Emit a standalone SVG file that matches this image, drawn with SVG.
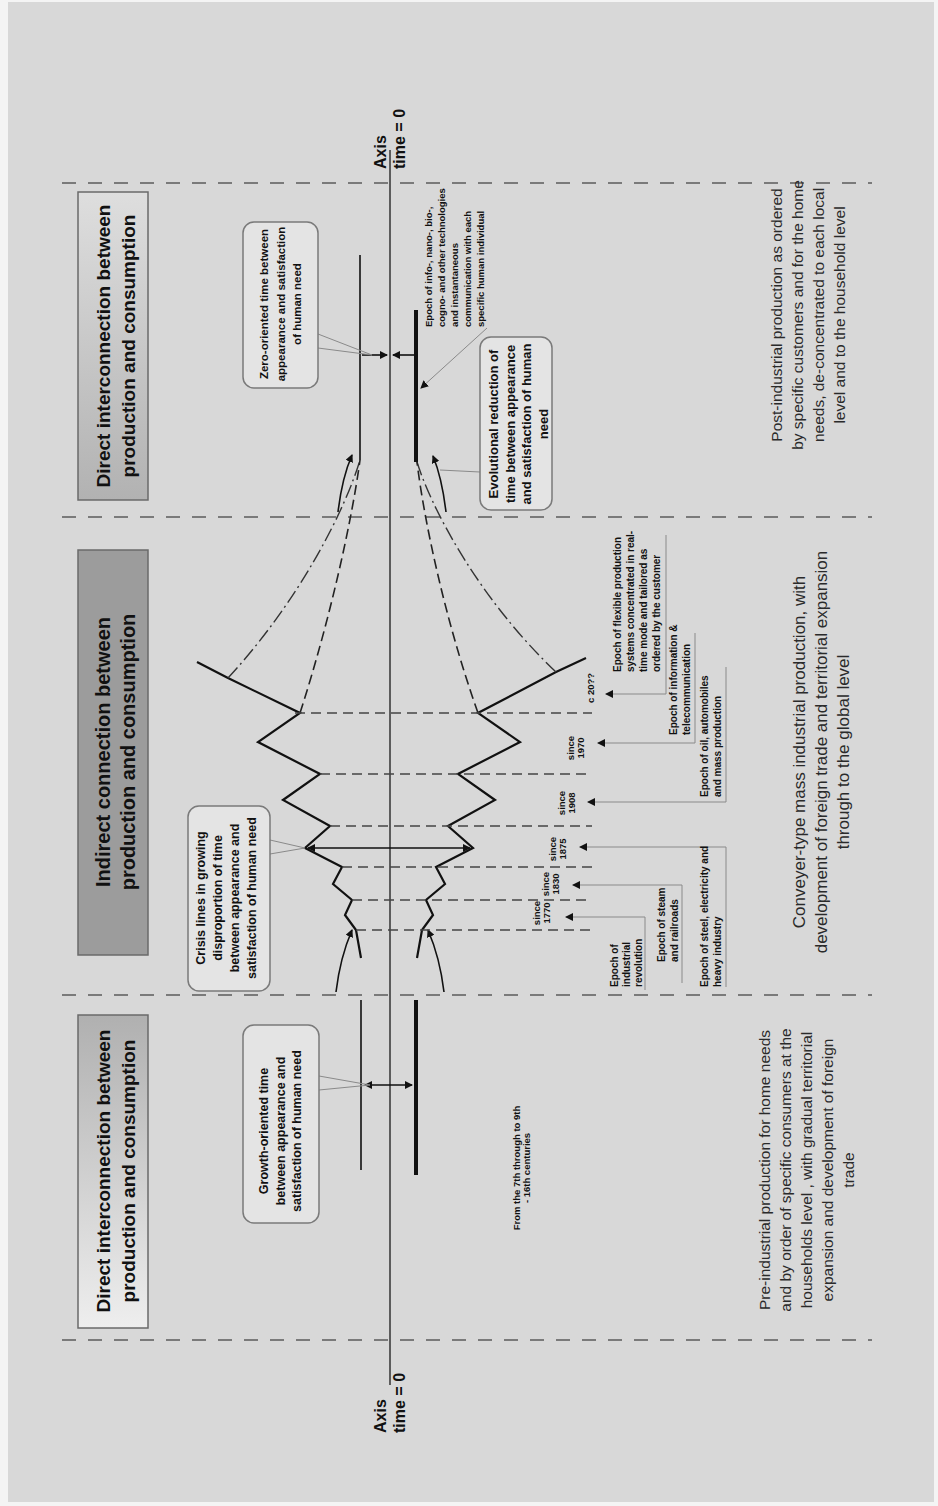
<svg xmlns="http://www.w3.org/2000/svg" width="938" height="1506" viewBox="0 0 938 1506">
<defs>
  <linearGradient id="gTop" x1="0" y1="0" x2="0" y2="1">
    <stop offset="0" stop-color="#dedede"/><stop offset="1" stop-color="#b2b2b2"/>
  </linearGradient>
  <linearGradient id="gBot" x1="0" y1="0" x2="0" y2="1">
    <stop offset="0" stop-color="#b0b0b0"/><stop offset="1" stop-color="#eeeeee"/>
  </linearGradient>
  <marker id="ah" markerWidth="8" markerHeight="8" refX="7" refY="4" orient="auto" markerUnits="userSpaceOnUse">
    <path d="M0,0 L8,4 L0,8 z" fill="#111"/>
  </marker>
  <marker id="ahs" markerWidth="8" markerHeight="8" refX="1" refY="4" orient="auto" markerUnits="userSpaceOnUse">
    <path d="M8,0 L0,4 L8,8 z" fill="#111"/>
  </marker>
</defs>
<style>
  .sep{stroke:#7a7a7a;stroke-width:2;stroke-dasharray:14 12;fill:none}
  .hdr{font-family:"Liberation Sans",Arial,sans-serif;font-weight:bold;font-size:19px;fill:#111;text-anchor:middle}
  .desc{font-family:"Liberation Sans",Arial,sans-serif;font-size:15.5px;fill:#2a2a2a;text-anchor:middle}
  .call{font-family:"Liberation Sans",Arial,sans-serif;font-weight:bold;font-size:12.5px;fill:#111;text-anchor:middle}
  .lbl{font-family:"Liberation Sans",Arial,sans-serif;font-weight:bold;font-size:10px;fill:#111;text-anchor:start}
  .since{font-family:"Liberation Sans",Arial,sans-serif;font-weight:bold;font-size:9.5px;fill:#111;text-anchor:middle}
  .axl{font-family:"Liberation Sans",Arial,sans-serif;font-weight:bold;font-size:16px;fill:#111;text-anchor:start}
  .cbox{fill:#e4e4e4;stroke:#7a7a7a;stroke-width:1.5}
  .hbox{stroke:#6a6a6a;stroke-width:1.5}
  .zig{fill:none;stroke:#111;stroke-width:2.2;stroke-linejoin:miter}
  .ep{stroke:#444;stroke-width:1.5;stroke-dasharray:10 6;fill:none}
  .lead{stroke:#8a8a8a;stroke-width:1;fill:none}
  .thin{stroke:#111;stroke-width:1.6;fill:none}
  .thick{stroke:#111;stroke-width:4;fill:none}
  .dc1{stroke:#222;stroke-width:1.6;fill:none;stroke-dasharray:10 5}
  .dc2{stroke:#333;stroke-width:1.4;fill:none;stroke-dasharray:14 4 2 4}
</style>
<rect x="0" y="0" width="938" height="1506" fill="#f4f4f4"/>
<rect x="8" y="2" width="926" height="1500" fill="#d8d8d8"/>

<g id="separators">
  <line class="sep" x1="62" y1="183" x2="872" y2="183"/>
  <line class="sep" x1="62" y1="517" x2="872" y2="517"/>
  <line class="sep" x1="62" y1="995" x2="872" y2="995"/>
  <line class="sep" x1="62" y1="1340" x2="872" y2="1340"/>
</g>

<g id="header-post">
  <rect class="hbox" x="78" y="192" width="70" height="308" fill="url(#gTop)"/>
  <g transform="translate(110,346) rotate(-90)">
    <text class="hdr" x="0" y="0">Direct interconnection between</text>
    <text class="hdr" x="0" y="25">production and consumption</text>
  </g>
</g>
<g id="header-indirect">
  <rect class="hbox" x="78" y="550" width="70" height="405" fill="#9c9c9c"/>
  <g transform="translate(110,752) rotate(-90)">
    <text class="hdr" x="0" y="0" style="font-size:20px">Indirect connection between</text>
    <text class="hdr" x="0" y="25" style="font-size:20px">production and consumption</text>
  </g>
</g>
<g id="header-pre">
  <rect class="hbox" x="78" y="1015" width="70" height="313" fill="url(#gBot)"/>
  <g transform="translate(110,1171) rotate(-90)">
    <text class="hdr" x="0" y="0">Direct interconnection between</text>
    <text class="hdr" x="0" y="25">production and consumption</text>
  </g>
</g>

<g id="desc-post" transform="translate(782,315) rotate(-90)">
  <text class="desc" x="0" y="0">Post-industrial production as ordered</text>
  <text class="desc" x="0" y="21">by specific customers and for the home</text>
  <text class="desc" x="0" y="42">needs, de-concentrated to each local</text>
  <text class="desc" x="0" y="63">level and to the household level</text>
</g>
<g id="desc-indirect" transform="translate(805,752) rotate(-90)">
  <text class="desc" x="0" y="0" style="font-size:17px">Conveyer-type mass industrial production, with</text>
  <text class="desc" x="0" y="22" style="font-size:17px">development of foreign trade and territorial expansion</text>
  <text class="desc" x="0" y="44" style="font-size:17px">through to the global level</text>
</g>
<g id="desc-pre" transform="translate(770,1170) rotate(-90)">
  <text class="desc" x="0" y="0">Pre-industrial production for home needs</text>
  <text class="desc" x="0" y="21">and by order of specific consumers at the</text>
  <text class="desc" x="0" y="42">households level , with gradual territorial</text>
  <text class="desc" x="0" y="63">expansion and development of foreign</text>
  <text class="desc" x="0" y="84">trade</text>
</g>

<g id="axis-top" transform="translate(386,169) rotate(-90)">
  <text class="axl" x="0" y="0">Axis</text>
  <text class="axl" x="0" y="19">time = 0</text>
</g>
<g id="axis-bottom" transform="translate(386,1433) rotate(-90)">
  <text class="axl" x="0" y="0">Axis</text>
  <text class="axl" x="0" y="19">time = 0</text>
</g>

<g id="connectors">
  <line x1="390" y1="150" x2="390" y2="1385" stroke="#333" stroke-width="1.5"/>
  <!-- pre-industrial parallel lines -->
  <line class="thin" x1="361" y1="1000" x2="361" y2="1170"/>
  <line class="thick" x1="416" y1="1000" x2="416" y2="1175"/>
  <line class="thin" x1="365" y1="1085" x2="412" y2="1085" marker-start="url(#ahs)" marker-end="url(#ah)"/>
  <!-- post-industrial parallel lines -->
  <line class="thin" x1="360" y1="255" x2="360" y2="460"/>
  <line class="thick" x1="416" y1="310" x2="416" y2="462"/>
  <line class="thin" x1="362" y1="355" x2="387" y2="355" marker-end="url(#ah)"/>
  <line class="thin" x1="414" y1="355" x2="393" y2="355" marker-end="url(#ah)"/>
  <!-- zigzags -->
  <polyline class="zig" points="361,958 356,930 345,915 352,900 333,884 342,867 305,848 330,826 283,800 320,774 258,742 300,713 228,678 197,662"/>
  <polyline class="zig" points="417,958 422,930 433,915 426,900 445,884 436,867 473,848 448,826 495,800 458,774 520,742 478,713 556,672 586,658"/>
  <!-- converging dashed curves -->
  <path class="dc2" d="M228,678 C300,600 345,510 360,460"/>
  <path class="dc1" d="M300,713 C330,620 352,520 360,460"/>
  <path class="dc2" d="M556,672 C480,600 432,510 417,462"/>
  <path class="dc1" d="M478,713 C445,620 424,520 417,462"/>
  <!-- crisis arrow -->
  <line class="thin" x1="308" y1="848" x2="470" y2="848" marker-start="url(#ahs)" marker-end="url(#ah)"/>
  <!-- curved direction arrows -->
  <path class="thin" d="M338,512 Q342,478 352,455" marker-end="url(#ah)"/>
  <path class="thin" d="M446,512 Q442,478 433,456" marker-end="url(#ah)"/>
  <path class="thin" d="M336,992 Q340,958 352,930" marker-end="url(#ah)"/>
  <path class="thin" d="M444,992 Q440,958 428,930" marker-end="url(#ah)"/>
  <!-- epoch boundary dashed lines -->
  <line class="ep" x1="356" y1="930" x2="592" y2="930"/>
  <line class="ep" x1="352" y1="900" x2="592" y2="900"/>
  <line class="ep" x1="342" y1="867" x2="592" y2="867"/>
  <line class="ep" x1="330" y1="826" x2="592" y2="826"/>
  <line class="ep" x1="320" y1="774" x2="592" y2="774"/>
  <line class="ep" x1="295" y1="713" x2="592" y2="713"/>
  <!-- epoch leaders -->
  <polyline class="lead" points="645,990 645,917 566,917" marker-end="url(#ah)"/>
  <polyline class="lead" points="682,983 682,885 573,885" marker-end="url(#ah)"/>
  <polyline class="lead" points="726,987 726,847 580,847" marker-end="url(#ah)"/>
  <polyline class="lead" points="726,667 726,802 588,802" marker-end="url(#ah)"/>
  <polyline class="lead" points="695,633 695,743 598,743" marker-end="url(#ah)"/>
  <polyline class="lead" points="666,535 666,694 606,694" marker-end="url(#ah)"/>
  <line class="lead" x1="487" y1="328" x2="421" y2="388" marker-end="url(#ah)"/>
  <line class="lead" x1="480" y1="472" x2="440" y2="470"/>
  <!-- callout pointers -->
  <polyline class="lead" points="318,334 372,355 318,348" stroke="#777"/>
  <polyline class="lead" points="270,840 305,848 270,854" stroke="#777"/>
  <polyline class="lead" points="319,1076 370,1085 319,1090" stroke="#777"/>
</g>

<g id="callout-zero">
  <rect class="cbox" x="243" y="222" width="75" height="166" rx="11"/>
  <g transform="translate(268,304) rotate(-90)">
    <text class="call" x="0" y="0" style="font-size:11.5px">Zero-oriented time between</text>
    <text class="call" x="0" y="16.5" style="font-size:11.5px">appearance and satisfaction</text>
    <text class="call" x="0" y="33" style="font-size:11.5px">of human need</text>
  </g>
</g>
<g id="callout-crisis">
  <rect class="cbox" x="188" y="806" width="82" height="185" rx="11"/>
  <g transform="translate(205,898) rotate(-90)">
    <text class="call" x="0" y="0">Crisis lines in growing</text>
    <text class="call" x="0" y="17">disproportion of time</text>
    <text class="call" x="0" y="34">between appearance and</text>
    <text class="call" x="0" y="51">satisfaction of human need</text>
  </g>
</g>
<g id="callout-growth">
  <rect class="cbox" x="243" y="1025" width="76" height="198" rx="11"/>
  <g transform="translate(268,1131) rotate(-90)">
    <text class="call" x="0" y="0">Growth-oriented time</text>
    <text class="call" x="0" y="16.5">between appearance and</text>
    <text class="call" x="0" y="33">satisfaction of human need</text>
  </g>
</g>
<g id="callout-evolution">
  <rect class="cbox" x="480" y="337" width="72" height="173" rx="11"/>
  <g transform="translate(498,424) rotate(-90)">
    <text class="call" x="0" y="0" style="font-size:13px">Evolutional reduction of</text>
    <text class="call" x="0" y="16.5" style="font-size:13px">time between appearance</text>
    <text class="call" x="0" y="33" style="font-size:13px">and satisfaction of human</text>
    <text class="call" x="0" y="49.5" style="font-size:13px">need</text>
  </g>
</g>

<g id="label-info" transform="translate(432,327) rotate(-90)">
  <text class="lbl" x="0" y="0" style="font-size:9.5px">Epoch of info-, nano-, bio-,</text>
  <text class="lbl" x="0" y="13" style="font-size:9.5px">cogno- and other technologies</text>
  <text class="lbl" x="0" y="26" style="font-size:9.5px">and instantaneous</text>
  <text class="lbl" x="0" y="39" style="font-size:9.5px">communication with each</text>
  <text class="lbl" x="0" y="52" style="font-size:9.5px">specific human individual</text>
</g>
<g id="label-industrial" transform="translate(618,987) rotate(-90)">
  <text class="lbl" x="0" y="0">Epoch of</text>
  <text class="lbl" x="0" y="12">industrial</text>
  <text class="lbl" x="0" y="24">revolution</text>
</g>
<g id="label-steam" transform="translate(665,962) rotate(-90)">
  <text class="lbl" x="0" y="0">Epoch of steam</text>
  <text class="lbl" x="0" y="13">and railroads</text>
</g>
<g id="label-steel" transform="translate(708,987) rotate(-90)">
  <text class="lbl" x="0" y="0">Epoch of steel, electricity and</text>
  <text class="lbl" x="0" y="13">heavy industry</text>
</g>
<g id="label-oil" transform="translate(708,797) rotate(-90)">
  <text class="lbl" x="0" y="0">Epoch of oil, automobiles</text>
  <text class="lbl" x="0" y="13">and mass production</text>
</g>
<g id="label-info-tele" transform="translate(677,735) rotate(-90)">
  <text class="lbl" x="0" y="0">Epoch of information &amp;</text>
  <text class="lbl" x="0" y="13">telecommunication</text>
</g>
<g id="label-flexible" transform="translate(621,672) rotate(-90)">
  <text class="lbl" x="0" y="0">Epoch of flexible production</text>
  <text class="lbl" x="0" y="13">systems concentrated in real-</text>
  <text class="lbl" x="0" y="26">time mode and tailored as</text>
  <text class="lbl" x="0" y="39">ordered by the customer</text>
</g>

<g id="since-1770" transform="translate(540,913) rotate(-90)">
  <text class="since" x="0" y="0">since</text><text class="since" x="0" y="10">1770</text>
</g>
<g id="since-1830" transform="translate(549,884) rotate(-90)">
  <text class="since" x="0" y="0">since</text><text class="since" x="0" y="10">1830</text>
</g>
<g id="since-1875" transform="translate(556,849) rotate(-90)">
  <text class="since" x="0" y="0">since</text><text class="since" x="0" y="10">1875</text>
</g>
<g id="since-1908" transform="translate(565,803) rotate(-90)">
  <text class="since" x="0" y="0">since</text><text class="since" x="0" y="10">1908</text>
</g>
<g id="since-1970" transform="translate(574,748) rotate(-90)">
  <text class="since" x="0" y="0">since</text><text class="since" x="0" y="10">1970</text>
</g>
<g id="since-20xx" transform="translate(594,688) rotate(-90)">
  <text class="since" x="0" y="0">c 20??</text>
</g>

<g id="label-early" transform="translate(520,1168) rotate(-90)">
  <text class="since" x="0" y="0">From the 7th through to 9th</text>
  <text class="since" x="0" y="10">- 16th centuries</text>
</g>
</svg>
